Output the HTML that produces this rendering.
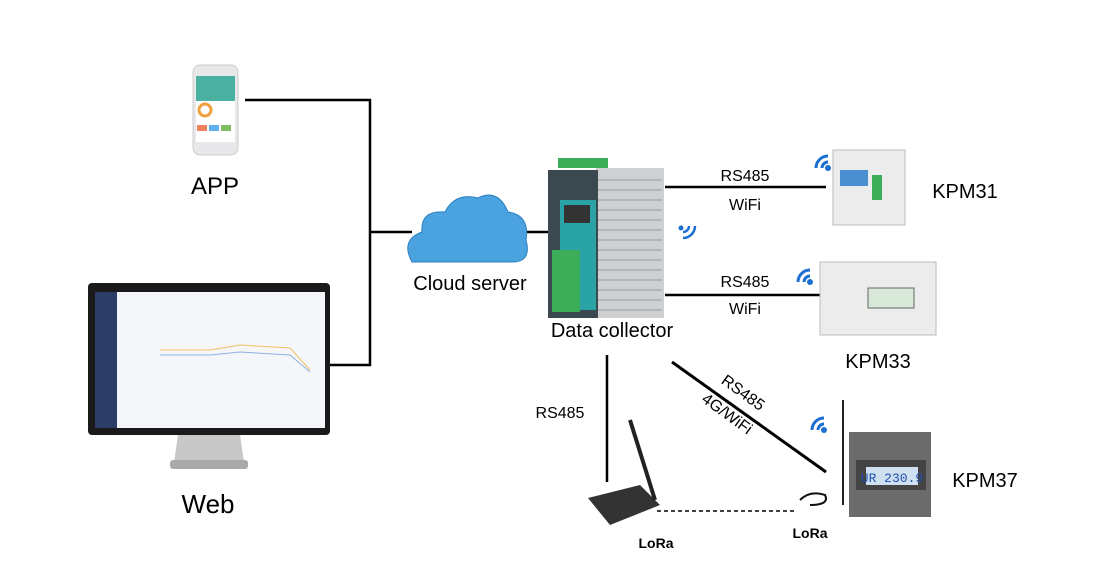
<!DOCTYPE html>
<html><head><meta charset="utf-8"><style>
body{margin:0;background:#fff}
svg{display:block;font-family:"Liberation Sans",sans-serif}
</style></head><body>
<svg width="1100" height="581" viewBox="0 0 1100 581">
<g stroke="#000" stroke-width="2.5" fill="none">
<polyline points="245,100 370,100 370,365 330,365"/>
<line x1="370" y1="232" x2="412" y2="232"/>
<line x1="525" y1="232" x2="556" y2="232"/>
<line x1="665" y1="187" x2="826" y2="187"/>
<line x1="665" y1="295" x2="826" y2="295"/>
<line x1="607" y1="355" x2="607" y2="482"/>
<line x1="672" y1="362" x2="826" y2="472" stroke-width="3"/>
<line x1="657" y1="511" x2="795" y2="511" stroke-width="1.5" stroke-dasharray="4,3"/>
</g>
<!-- phone -->
<rect x="193" y="65" width="45" height="90" rx="7" fill="#e8e8ea" stroke="#ccc"/>
<rect x="196" y="76" width="39" height="66" fill="#fff"/>
<rect x="196" y="76" width="39" height="25" fill="#4ab0a0"/>
<circle cx="205" cy="110" r="6" fill="none" stroke="#f0a040" stroke-width="3"/>
<rect x="197" y="125" width="10" height="6" fill="#f08060"/><rect x="209" y="125" width="10" height="6" fill="#60b0f0"/><rect x="221" y="125" width="10" height="6" fill="#80c060"/>
<text x="215" y="194" font-size="24" text-anchor="middle">APP</text>
<!-- cloud -->
<path d="M412,262 Q400,240 422,232 Q420,210 445,212 Q455,192 478,198 Q498,188 508,212 Q530,215 526,240 Q532,262 512,262 Z" fill="#4aa3df" stroke="#2b7fc0"/>
<text x="470" y="290" font-size="20" text-anchor="middle">Cloud server</text>
<!-- collector -->
<rect x="596" y="168" width="68" height="150" fill="#cfd0d2"/>
<g stroke="#9a9a9a" stroke-width="1">
<line x1="598" y1="180" x2="662" y2="180"/><line x1="598" y1="190" x2="662" y2="190"/><line x1="598" y1="200" x2="662" y2="200"/><line x1="598" y1="210" x2="662" y2="210"/><line x1="598" y1="220" x2="662" y2="220"/><line x1="598" y1="230" x2="662" y2="230"/><line x1="598" y1="240" x2="662" y2="240"/><line x1="598" y1="250" x2="662" y2="250"/><line x1="598" y1="260" x2="662" y2="260"/><line x1="598" y1="270" x2="662" y2="270"/><line x1="598" y1="280" x2="662" y2="280"/><line x1="598" y1="290" x2="662" y2="290"/><line x1="598" y1="300" x2="662" y2="300"/><line x1="598" y1="310" x2="662" y2="310"/></g>
<rect x="558" y="158" width="50" height="10" fill="#3cae5a"/>
<rect x="548" y="170" width="50" height="148" fill="#3c4850"/>
<rect x="560" y="200" width="36" height="110" fill="#29a3a5"/>
<rect x="564" y="205" width="26" height="18" fill="#333"/>
<rect x="552" y="250" width="28" height="62" fill="#3cae5a"/>
<text x="612" y="337" font-size="20" text-anchor="middle">Data collector</text>
<g fill="none" stroke="#1a6fd0" stroke-width="2.5"><path d="M683,232 a6,6 0 0 0 6,-6"/><path d="M683,238 a12,12 0 0 0 12,-12"/></g><circle cx="681" cy="228" r="2.5" fill="#1a6fd0"/>
<!-- labels -->
<g font-size="16" text-anchor="middle"><text x="745" y="181">RS485</text><text x="745" y="210">WiFi</text>
<text x="745" y="287">RS485</text><text x="745" y="314">WiFi</text>
<text x="560" y="418">RS485</text>
<text transform="translate(740,397) rotate(36)" text-anchor="middle">RS485</text>
<text transform="translate(724,418) rotate(36)" text-anchor="middle">4G/WiFi</text></g>
<!-- KPM31 -->
<rect x="833" y="150" width="72" height="75" fill="#ececec" stroke="#bbb"/>
<rect x="840" y="170" width="28" height="16" fill="#4a90d0"/>
<rect x="872" y="175" width="10" height="25" fill="#3cae5a"/>
<g fill="none" stroke="#1a6fd0" stroke-width="3"><path d="M816,168 a12,12 0 0 1 12,-12"/><path d="M822,168 a6,6 0 0 1 6,-6"/></g><circle cx="828" cy="168" r="3" fill="#1a6fd0"/>
<text x="965" y="198" font-size="20" text-anchor="middle">KPM31</text>
<!-- KPM33 -->
<rect x="820" y="262" width="116" height="73" fill="#ececec" stroke="#bbb"/>
<rect x="868" y="288" width="46" height="20" fill="#d8e8d8" stroke="#666"/>
<g fill="none" stroke="#1a6fd0" stroke-width="3"><path d="M798,282 a12,12 0 0 1 12,-12"/><path d="M804,282 a6,6 0 0 1 6,-6"/></g><circle cx="810" cy="282" r="3" fill="#1a6fd0"/>
<text x="878" y="368" font-size="20" text-anchor="middle">KPM33</text>
<!-- KPM37 -->
<rect x="849" y="432" width="82" height="85" fill="#6b6b6b"/>
<rect x="856" y="460" width="70" height="30" fill="#444"/>
<rect x="866" y="467" width="52" height="18" fill="#cfe0f0"/>
<text x="892" y="482" font-size="13" text-anchor="middle" fill="#2050b0" font-family="Liberation Mono">UR 230.9</text>
<line x1="843" y1="400" x2="843" y2="505" stroke="#222" stroke-width="2"/>
<g fill="none" stroke="#1a6fd0" stroke-width="3"><path d="M812,430 a12,12 0 0 1 12,-12"/><path d="M818,430 a6,6 0 0 1 6,-6"/></g><circle cx="824" cy="430" r="3" fill="#1a6fd0"/>
<text x="985" y="487" font-size="20" text-anchor="middle">KPM37</text>
<path d="M800,500 q10,-10 25,-5 q5,10 -15,10" fill="none" stroke="#111" stroke-width="2"/>
<text x="810" y="538" font-size="14" font-weight="bold" text-anchor="middle">LoRa</text>
<!-- gateway -->
<polygon points="588,498 640,485 660,505 610,525" fill="#333"/>
<line x1="630" y1="420" x2="655" y2="500" stroke="#222" stroke-width="4"/>
<text x="656" y="548" font-size="14" font-weight="bold" text-anchor="middle">LoRa</text>
<!-- monitor -->
<rect x="88" y="283" width="242" height="152" rx="4" fill="#1a1a1a"/>
<rect x="95" y="292" width="230" height="136" fill="#f4f6fa"/>
<rect x="95" y="292" width="22" height="136" fill="#2c3e66"/>
<polyline points="160,350 210,350 240,345 290,348 310,370" fill="none" stroke="#f0c060"/>
<polyline points="160,355 210,355 240,352 290,355 310,372" fill="none" stroke="#90b0e0"/>
<polygon points="178,435 240,435 244,462 174,462" fill="#c8c8c8"/>
<rect x="170" y="460" width="78" height="9" rx="3" fill="#aaa"/>
<text x="208" y="513" font-size="26" text-anchor="middle">Web</text>
</svg>
</body></html>
